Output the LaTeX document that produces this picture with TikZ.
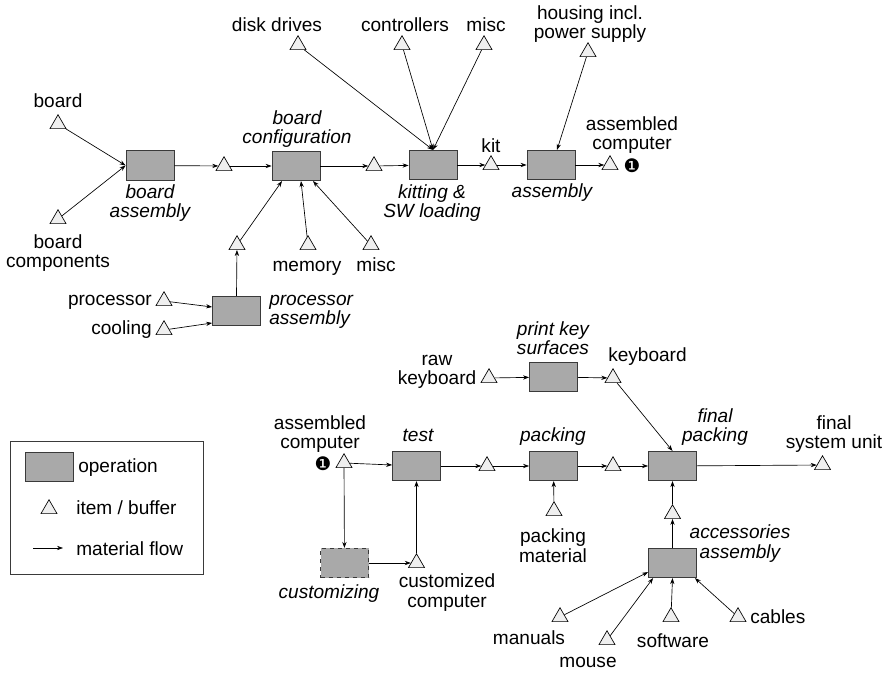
\documentclass[tikz,border=0pt]{standalone}
\usepackage{fontspec}
\setmainfont{Liberation Sans}
\newfontfamily\dejavu{DejaVu Sans}
\usetikzlibrary{shapes.geometric,arrows.meta,calc}
\definecolor{opfill}{HTML}{A9A9A9}
\definecolor{opline}{HTML}{3A3A3A}
\definecolor{trifill}{HTML}{EFEFEF}
\begin{document}
\begin{tikzpicture}[x=0.75pt,y=-0.75pt,
  every node/.style={font=\fontsize{14.3}{14.6}\selectfont},
  op/.style={rectangle, draw=opline, fill=opfill, line width=0.6pt, minimum width=36pt, minimum height=22pt, inner sep=0pt},
  tri/.style={regular polygon, regular polygon sides=3, draw=black, fill=trifill, line width=0.5pt, minimum size=13.9pt, inner sep=0pt},
  lbl/.style={anchor=base, align=center, inner sep=0pt},
  itl/.style={lbl, font=\fontsize{14.3}{14.6}\selectfont\itshape},
  flow/.style={draw, line width=0.5pt, -{Stealth[length=4.5pt,width=3.2pt]}},
  num/.style={inner sep=0pt, font=\dejavu\fontsize{14}{14}\selectfont}
]
\useasboundingbox (0,0) rectangle (889,673);
\fill[white] (0,0) rectangle (889,673);

% ---------- operations ----------
\node[op] (ba) at (150,165.5) {};
\node[op] (bc) at (296,166) {};
\node[op] (ks) at (433,165) {};
\node[op] (as) at (551,165) {};
\node[op] (pa) at (236.5,311) {};
\node[op] (pk) at (553.5,377) {};
\node[op] (te) at (416.5,466) {};
\node[op] (pc) at (553.5,466) {};
\node[op] (fp) at (672.5,466) {};
\node[op] (aa) at (672.5,563) {};
\node[op, dashed] (cu) at (344.5,563) {};

% ---------- items ----------
\node[tri] (tboard) at (58,124) {};
\node[tri] (tbcomp) at (58,219) {};
\node[tri] (t1) at (224,166) {};
\node[tri] (t2) at (374,166) {};
\node[tri] (tkit) at (491,165) {};
\node[tri] (tac) at (610,165) {};
\node[tri] (tdisk) at (298,45) {};
\node[tri] (tctrl) at (402,45) {};
\node[tri] (tmiscA) at (484,45) {};
\node[tri] (thouse) at (588,52) {};
\node[tri] (tprocout) at (237,245) {};
\node[tri] (tmem) at (308,245) {};
\node[tri] (tmiscB) at (371,245) {};
\node[tri] (tproc) at (164,301) {};
\node[tri] (tcool) at (164,330) {};
\node[tri] (traw) at (489,378) {};
\node[tri] (tkb) at (613,378) {};
\node[tri] (tacB) at (344,463) {};
\node[tri] (t3) at (487,466) {};
\node[tri] (t4) at (613,466) {};
\node[tri] (tfsu) at (822.5,465) {};
\node[tri] (tpm) at (554,511) {};
\node[tri] (tacc) at (672.5,514) {};
\node[tri] (tcc) at (416.5,563) {};
\node[tri] (tman) at (560,617) {};
\node[tri] (tmouse) at (607,640) {};
\node[tri] (tsw) at (671,617) {};
\node[tri] (tcab) at (738,617) {};

\node[num] (n1) at (632,166) {❶};
\node[num] (n2) at (323,464) {❶};

% ---------- labels ----------
\node[lbl] (lboard) at (58,108) {board};
\node[lbl] (lbcomp) at (58,268) {board\\components};
\node[itl] (lba) at (150,218) {board\\assembly};
\node[itl] (lbc) at (297,144) {board\\configuration};
\node[lbl] (ldisk) at (277,32) {disk drives};
\node[lbl] (lctrl) at (405,32) {controllers};
\node[lbl] (lmiscA) at (486,32) {misc};
\node[lbl] (lhouse) at (590,39) {housing incl.\\power supply};
\node[lbl] (lac) at (632,150) {assembled\\computer};
\node[lbl] (lkit) at (491,153) {kit};
\node[itl] (lks) at (432,218) {kitting \&\\SW loading};
\node[itl] (las) at (552,198) {assembly};
\node[lbl] (lmem) at (307,272) {memory};
\node[lbl] (lmiscB) at (376,272) {misc};
\node[itl, anchor=base west, align=left] (lpa) at (269,325) {processor\\assembly};
\node[lbl, anchor=base east] (lproc) at (152,306) {processor};
\node[lbl, anchor=base east] (lcool) at (152,335) {cooling};
\node[itl] (lpk) at (553,355) {print key\\surfaces};
\node[lbl] (lraw) at (437,385) {raw\\keyboard};
\node[lbl, anchor=base west] (lkb) at (608,362) {keyboard};
\node[lbl] (lacB) at (320,449) {assembled\\computer};
\node[itl] (lte) at (418,442) {test};
\node[itl] (lpc) at (553,442) {packing};
\node[itl] (lfp) at (715,442) {final\\packing};
\node[lbl] (lfsu) at (834,449) {final\\system unit};
\node[lbl] (lpm) at (553,562) {packing\\material};
\node[itl] (laa) at (740,558) {accessories\\assembly};
\node[itl] (lcu) at (329,598) {customizing};
\node[lbl] (lcc) at (447,607) {customized\\computer};
\node[lbl] (lman) at (529,644) {manuals};
\node[lbl] (lmouse) at (588,667) {mouse};
\node[lbl] (lsw) at (673,647) {software};
\node[lbl, anchor=base west] (lcab) at (750,623) {cables};

% ---------- flows: top ----------
\draw[flow] (tboard) -- (ba.west);
\draw[flow] (tbcomp) -- (ba.west);
\draw[flow] (ba) -- (t1);
\draw[flow] (t1) -- (bc);
\draw[flow] (bc) -- (t2);
\draw[flow] (t2) -- (ks);
\draw[flow] (ks) -- (tkit);
\draw[flow] (tkit) -- (as);
\draw[flow] (as) -- (tac);
\draw[flow] (tdisk) -- (ks.north);
\draw[flow] (tctrl) -- (ks.north);
\draw[flow] (tmiscA) -- (ks.north);
\draw[flow] (thouse) -- ($(as.north)+(6,0)$);
\draw[flow] (tprocout) -- ($(bc.south)+(-14,0)$);
\draw[flow] (tmem) -- ($(bc.south)+(5,0)$);
\draw[flow] (tmiscB) -- ($(bc.south)+(17,0)$);
\draw[flow] (pa.north) -- (tprocout);
\draw[flow] (tproc) -- ($(pa.west)+(0,-4)$);
\draw[flow] (tcool) -- ($(pa.west)+(0,12)$);

% ---------- flows: bottom ----------
\draw[flow] (traw) -- (pk);
\draw[flow] (pk) -- (tkb);
\draw[flow] (tkb) -- (fp.north);
\draw[flow] (tacB) -- (te);
\draw[flow] (te) -- (t3);
\draw[flow] (t3) -- (pc);
\draw[flow] (pc) -- (t4);
\draw[flow] (t4) -- (fp);
\draw[flow] (fp) -- (tfsu);
\draw[flow] (tacB) -- (cu);
\draw[flow] (cu) -- (tcc);
\draw[flow] (tcc) -- (te);
\draw[flow] (tpm) -- (pc);
\draw[flow] (aa) -- (tacc);
\draw[flow] (tacc) -- (fp);
\draw[flow] (tman) -- ($(aa.south west)+(0,-6)$);
\draw[flow] (tmouse) -- ($(aa.south west)+(5,0)$);
\draw[flow] (tsw) -- (aa.south);
\draw[flow] (tcab) -- ($(aa.south east)+(-2,0)$);

% ---------- legend ----------
\node[draw=opline, line width=0.6pt, fill=white, minimum width=144.75pt, minimum height=99.75pt, inner sep=0pt] (leg) at (106.5,507.5) {};
\node[op] (legop) at (49,467) {};
\node[lbl, anchor=base west] (leglop) at (78,473) {operation};
\node[tri] (legtri) at (49,509) {};
\node[lbl, anchor=base west] (legltri) at (76,514) {item / buffer};
\coordinate (lega) at (33,548);
\coordinate (legb) at (63,548);
\draw[flow] (lega) -- (legb);
\node[lbl, anchor=base west] (leglflow) at (76,555) {material flow};
\end{tikzpicture}
\end{document}
